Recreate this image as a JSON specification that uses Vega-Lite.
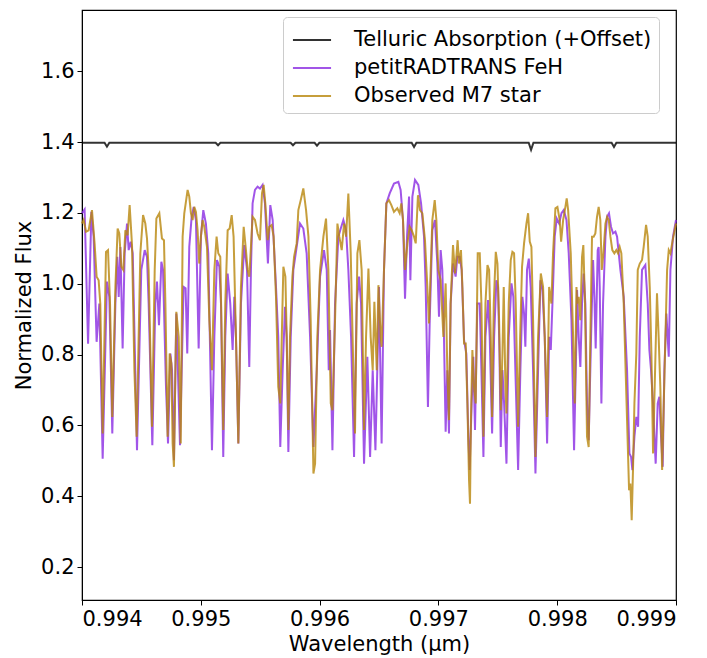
{
  "$schema": "https://vega.github.io/schema/vega-lite/v6.json",
  "width": 594,
  "height": 590,
  "autosize": {"type": "none"},
  "padding": {"left": 82, "top": 10, "right": 31, "bottom": 58},
  "background": "white",
  "config": {
    "view": {"stroke": "black", "strokeWidth": 1.2},
    "font": "DejaVu Sans",
    "axis": {"labelFont": "DejaVu Sans", "titleFont": "DejaVu Sans", "labelFontSize": 21, "titleFontSize": 21, "titleFontWeight": "normal", "labelColor": "black", "titleColor": "black", "tickColor": "black", "domainColor": "black", "tickSize": 5, "grid": false, "labelPadding": 3},
    "legend": {"labelFont": "DejaVu Sans", "labelFontSize": 21, "labelColor": "black"}
  },
  "datasets": {
    "tell": [
      {"w":0.994000,"f":1.398},{"w":0.994190,"f":1.398},{"w":0.994210,"f":1.387},{"w":0.994230,"f":1.398},
      {"w":0.995125,"f":1.398},{"w":0.995145,"f":1.391},{"w":0.995165,"f":1.398},
      {"w":0.995756,"f":1.398},{"w":0.995776,"f":1.391},{"w":0.995796,"f":1.398},
      {"w":0.995958,"f":1.398},{"w":0.995978,"f":1.390},{"w":0.995998,"f":1.398},
      {"w":0.996775,"f":1.398},{"w":0.996795,"f":1.386},{"w":0.996815,"f":1.398},
      {"w":0.997760,"f":1.398},{"w":0.997780,"f":1.378},{"w":0.997800,"f":1.398},
      {"w":0.998458,"f":1.398},{"w":0.998478,"f":1.386},{"w":0.998498,"f":1.398},
      {"w":0.999000,"f":1.398}
    ],
    "model": [
      {"w":0.994000,"f":1.199},{"w":0.994022,"f":1.210},{"w":0.994051,"f":0.831},{"w":0.994079,"f":1.203},{"w":0.994098,"f":1.133},{"w":0.994123,"f":0.836},{"w":0.994146,"f":0.944},{"w":0.994174,"f":0.506},{"w":0.994210,"f":1.006},{"w":0.994230,"f":0.963},{"w":0.994255,"f":0.577},{"w":0.994281,"f":0.944},{"w":0.994297,"f":1.076},{"w":0.994309,"f":0.963},{"w":0.994323,"f":1.104},{"w":0.994342,"f":0.817},{"w":0.994359,"f":1.086},{"w":0.994379,"f":1.170},{"w":0.994393,"f":1.095},{"w":0.994410,"f":1.119},{"w":0.994427,"f":1.086},{"w":0.994463,"f":0.530},{"w":0.994499,"f":1.039},{"w":0.994528,"f":1.095},{"w":0.994547,"f":1.076},{"w":0.994561,"f":0.944},{"w":0.994592,"f":0.544},{"w":0.994617,"f":0.944},{"w":0.994631,"f":1.006},{"w":0.994648,"f":0.883},{"w":0.994668,"f":1.062},{"w":0.994682,"f":1.039},{"w":0.994707,"f":0.709},{"w":0.994724,"f":0.549},{"w":0.994744,"f":0.803},{"w":0.994758,"f":0.756},{"w":0.994774,"f":0.502},{"w":0.994794,"f":0.916},{"w":0.994825,"f":0.544},
      {"w":0.994855,"f":0.991},{"w":0.994872,"f":0.987},{"w":0.994886,"f":0.803},{"w":0.994903,"f":1.104},{"w":0.994923,"f":1.189},{"w":0.994940,"f":1.217},{"w":0.994959,"f":1.180},{"w":0.994982,"f":0.817},{"w":0.995001,"f":1.133},{"w":0.995021,"f":1.208},{"w":0.995043,"f":1.170},{"w":0.995063,"f":1.086},{"w":0.995094,"f":0.530},{"w":0.995114,"f":0.850},{"w":0.995136,"f":1.067},{"w":0.995156,"f":1.048},{"w":0.995170,"f":0.944},{"w":0.995189,"f":0.511},{"w":0.995206,"f":0.850},{"w":0.995226,"f":1.029},{"w":0.995248,"f":0.944},{"w":0.995268,"f":0.813},{"w":0.995282,"f":0.963},{"w":0.995296,"f":0.850},{"w":0.995316,"f":0.549},{"w":0.995338,"f":0.944},{"w":0.995366,"f":1.109},{"w":0.995389,"f":1.039},{"w":0.995408,"f":0.765},{"w":0.995422,"f":1.039},{"w":0.995436,"f":1.227},{"w":0.995456,"f":1.265},{"w":0.995478,"f":1.274},{"w":0.995498,"f":1.269},{"w":0.995520,"f":1.279},{"w":0.995540,"f":1.227},{"w":0.995554,"f":1.133},{"w":0.995565,"f":1.057},{"w":0.995585,"f":1.222},{"w":0.995605,"f":1.180},{"w":0.995633,"f":0.991},{"w":0.995652,"f":0.850},{"w":0.995669,"f":0.539},
      {"w":0.995689,"f":0.756},{"w":0.995709,"f":0.935},{"w":0.995723,"f":0.850},{"w":0.995737,"f":0.525},{"w":0.995757,"f":0.850},{"w":0.995779,"f":1.039},{"w":0.995807,"f":1.104},{"w":0.995835,"f":1.170},{"w":0.995863,"f":1.156},{"w":0.995891,"f":1.086},{"w":0.995920,"f":0.850},{"w":0.995948,"f":0.539},{"w":0.995976,"f":0.756},{"w":0.996004,"f":1.020},{"w":0.996037,"f":1.095},{"w":0.996060,"f":1.039},{"w":0.996077,"f":0.756},{"w":0.996088,"f":0.869},{"w":0.996108,"f":0.530},{"w":0.996130,"f":0.944},{"w":0.996158,"f":1.133},{"w":0.996178,"f":1.156},{"w":0.996200,"f":1.180},{"w":0.996223,"f":1.151},{"w":0.996242,"f":1.039},{"w":0.996265,"f":0.850},{"w":0.996290,"f":0.511},{"w":0.996312,"f":0.944},{"w":0.996332,"f":1.020},{"w":0.996349,"f":0.944},{"w":0.996374,"f":0.492},{"w":0.996402,"f":0.794},{"w":0.996425,"f":0.511},{"w":0.996447,"f":0.756},{"w":0.996470,"f":0.530},{"w":0.996492,"f":0.850},
      {"w":0.996500,"f":0.991},{"w":0.996522,"f":0.549},{"w":0.996542,"f":1.039},{"w":0.996562,"f":1.227},{"w":0.996590,"f":1.255},{"w":0.996626,"f":1.283},{"w":0.996663,"f":1.288},{"w":0.996682,"f":1.265},{"w":0.996702,"f":1.180},{"w":0.996719,"f":0.958},{"w":0.996736,"f":1.133},{"w":0.996753,"f":1.246},{"w":0.996764,"f":1.010},{"w":0.996781,"f":1.246},{"w":0.996803,"f":1.293},{"w":0.996831,"f":1.279},{"w":0.996854,"f":1.227},{"w":0.996879,"f":1.133},{"w":0.996893,"f":0.991},{"w":0.996912,"f":0.652},{"w":0.996927,"f":0.897},{"w":0.996949,"f":1.151},{"w":0.996971,"f":1.180},{"w":0.996991,"f":1.057},{"w":0.997005,"f":0.907},{"w":0.997019,"f":1.095},{"w":0.997033,"f":1.039},{"w":0.997047,"f":0.850},{"w":0.997061,"f":0.582},{"w":0.997075,"f":0.756},{"w":0.997089,"f":0.577},{"w":0.997103,"f":0.944},{"w":0.997123,"f":1.057},{"w":0.997145,"f":1.020},{"w":0.997159,"f":1.076},{"w":0.997179,"f":1.076},{"w":0.997196,"f":1.039},{"w":0.997216,"f":0.841},{"w":0.997235,"f":0.803},{"w":0.997252,"f":0.568},{"w":0.997263,"f":0.474},{"w":0.997280,"f":0.662},{"w":0.997294,"f":0.794},{"w":0.997308,"f":0.587},{"w":0.997328,"f":0.944},
      {"w":0.997348,"f":0.944},{"w":0.997362,"f":0.756},{"w":0.997379,"f":0.511},{"w":0.997396,"f":0.850},{"w":0.997418,"f":0.954},{"w":0.997432,"f":0.850},{"w":0.997452,"f":0.577},{"w":0.997469,"f":0.850},{"w":0.997488,"f":1.010},{"w":0.997502,"f":0.991},{"w":0.997514,"f":0.803},{"w":0.997525,"f":0.539},{"w":0.997539,"f":0.756},{"w":0.997553,"f":0.662},{"w":0.997573,"f":0.492},{"w":0.997592,"f":0.850},{"w":0.997615,"f":1.001},{"w":0.997631,"f":0.963},{"w":0.997648,"f":0.756},{"w":0.997671,"f":0.474},{"w":0.997690,"f":0.756},{"w":0.997707,"f":0.963},{"w":0.997721,"f":0.916},{"w":0.997732,"f":0.822},{"w":0.997746,"f":1.039},{"w":0.997761,"f":1.071},{"w":0.997777,"f":0.991},{"w":0.997797,"f":0.756},{"w":0.997817,"f":0.464},{"w":0.997839,"f":0.756},{"w":0.997859,"f":1.010},{"w":0.997876,"f":0.982},{"w":0.997895,"f":0.850},{"w":0.997915,"f":0.549},{"w":0.997932,"f":0.850},{"w":0.997946,"f":0.813},{"w":0.997960,"f":0.944},{"w":0.997979,"f":1.133},{"w":0.997996,"f":1.184},{"w":0.998016,"f":1.170},{"w":0.998036,"f":1.199},{"w":0.998055,"f":1.208},{"w":0.998078,"f":1.180},{"w":0.998097,"f":1.086},{"w":0.998120,"f":0.897},{"w":0.998142,"f":0.530},{"w":0.998162,"f":0.850},
      {"w":0.998167,"f":0.982},{"w":0.998181,"f":0.850},{"w":0.998195,"f":0.765},{"w":0.998209,"f":0.944},{"w":0.998223,"f":1.029},{"w":0.998237,"f":0.944},{"w":0.998251,"f":0.662},{"w":0.998265,"f":0.558},{"w":0.998285,"f":0.850},{"w":0.998302,"f":1.067},{"w":0.998313,"f":0.963},{"w":0.998324,"f":0.817},{"w":0.998341,"f":1.095},{"w":0.998349,"f":1.104},{"w":0.998358,"f":0.991},{"w":0.998372,"f":0.662},{"w":0.998386,"f":0.944},{"w":0.998406,"f":1.133},{"w":0.998420,"f":1.189},{"w":0.998436,"f":1.199},{"w":0.998453,"f":1.161},{"w":0.998470,"f":1.142},{"w":0.998490,"f":1.147},{"w":0.998504,"f":1.133},{"w":0.998518,"f":1.086},{"w":0.998532,"f":1.039},{"w":0.998560,"f":0.963},{"w":0.998588,"f":0.756},{"w":0.998608,"f":0.521},{"w":0.998622,"f":0.511},{"w":0.998633,"f":0.474},{"w":0.998650,"f":0.568},{"w":0.998666,"f":0.624},{"w":0.998681,"f":0.596},{"w":0.998695,"f":0.850},{"w":0.998714,"f":1.039},{"w":0.998742,"f":1.053},{"w":0.998762,"f":0.944},{"w":0.998776,"f":0.813},{"w":0.998790,"f":0.756},{"w":0.998807,"f":0.662},{"w":0.998818,"f":0.568},{"w":0.998829,"f":0.492},{"w":0.998846,"f":0.662},{"w":0.998860,"f":0.681},{"w":0.998874,"f":0.568},{"w":0.998888,"f":0.483},{"w":0.998902,"f":0.756},{"w":0.998919,"f":0.916},{"w":0.998939,"f":0.794},{"w":0.998953,"f":1.039},{"w":0.998975,"f":1.133},{"w":0.999000,"f":1.180}
    ],
    "obs": [
      {"w":0.994000,"f":1.170},{"w":0.994014,"f":1.180},{"w":0.994034,"f":1.147},{"w":0.994056,"f":1.151},{"w":0.994084,"f":1.208},{"w":0.994107,"f":1.109},{"w":0.994123,"f":1.020},{"w":0.994140,"f":1.010},{"w":0.994154,"f":0.944},{"w":0.994174,"f":0.577},{"w":0.994202,"f":1.090},{"w":0.994219,"f":1.095},{"w":0.994236,"f":0.944},{"w":0.994255,"f":0.624},{"w":0.994281,"f":0.991},{"w":0.994300,"f":1.156},{"w":0.994314,"f":1.142},{"w":0.994331,"f":1.048},{"w":0.994348,"f":1.039},{"w":0.994365,"f":1.151},{"w":0.994384,"f":1.137},{"w":0.994401,"f":1.222},{"w":0.994421,"f":1.109},{"w":0.994441,"f":0.756},{"w":0.994460,"f":0.568},{"w":0.994491,"f":1.086},{"w":0.994514,"f":1.194},{"w":0.994533,"f":1.170},{"w":0.994547,"f":1.128},{"w":0.994561,"f":1.039},{"w":0.994589,"f":0.596},{"w":0.994612,"f":1.039},{"w":0.994626,"f":1.184},{"w":0.994651,"f":1.199},{"w":0.994673,"f":1.128},{"w":0.994690,"f":1.123},{"w":0.994702,"f":0.944},{"w":0.994721,"f":0.568},{"w":0.994738,"f":0.803},{"w":0.994752,"f":0.775},{"w":0.994763,"f":0.549},{"w":0.994774,"f":0.483},{"w":0.994794,"f":0.921},{"w":0.994814,"f":0.850},{"w":0.994831,"f":0.549},
      {"w":0.994847,"f":1.133},{"w":0.994861,"f":1.199},{"w":0.994875,"f":1.232},{"w":0.994889,"f":1.265},{"w":0.994903,"f":1.246},{"w":0.994917,"f":1.199},{"w":0.994931,"f":1.180},{"w":0.994945,"f":1.217},{"w":0.994959,"f":1.203},{"w":0.994973,"f":1.151},{"w":0.994987,"f":1.057},{"w":0.995001,"f":1.133},{"w":0.995015,"f":1.180},{"w":0.995029,"f":1.161},{"w":0.995052,"f":1.104},{"w":0.995072,"f":0.897},{"w":0.995094,"f":0.756},{"w":0.995114,"f":1.039},{"w":0.995133,"f":1.133},{"w":0.995147,"f":1.086},{"w":0.995164,"f":1.076},{"w":0.995189,"f":0.587},{"w":0.995206,"f":0.944},{"w":0.995226,"f":1.151},{"w":0.995243,"f":1.156},{"w":0.995260,"f":1.194},{"w":0.995276,"f":1.133},{"w":0.995296,"f":0.850},{"w":0.995316,"f":0.549},{"w":0.995338,"f":0.991},{"w":0.995361,"f":1.161},{"w":0.995380,"f":1.095},{"w":0.995394,"f":1.039},{"w":0.995408,"f":1.020},{"w":0.995422,"f":1.104},{"w":0.995436,"f":1.189},{"w":0.995456,"f":1.180},{"w":0.995478,"f":1.142},{"w":0.995498,"f":1.123},{"w":0.995515,"f":1.255},{"w":0.995529,"f":1.279},{"w":0.995543,"f":1.227},{"w":0.995563,"f":1.123},{"w":0.995577,"f":1.161},{"w":0.995596,"f":1.166},{"w":0.995613,"f":1.133},{"w":0.995633,"f":0.963},{"w":0.995652,"f":0.709},{"w":0.995669,"f":0.662},
      {"w":0.995695,"f":1.048},{"w":0.995712,"f":1.020},{"w":0.995723,"f":0.850},{"w":0.995737,"f":0.587},{"w":0.995751,"f":0.850},{"w":0.995771,"f":1.020},{"w":0.995785,"f":1.076},{"w":0.995807,"f":1.114},{"w":0.995821,"f":1.208},{"w":0.995841,"f":1.236},{"w":0.995863,"f":1.269},{"w":0.995886,"f":1.208},{"w":0.995906,"f":1.133},{"w":0.995925,"f":0.897},{"w":0.995948,"f":0.464},{"w":0.995962,"f":0.492},{"w":0.995981,"f":0.850},{"w":0.996004,"f":1.039},{"w":0.996032,"f":1.133},{"w":0.996054,"f":1.184},{"w":0.996074,"f":1.039},{"w":0.996094,"f":0.662},{"w":0.996108,"f":0.643},{"w":0.996130,"f":0.897},{"w":0.996150,"f":1.170},{"w":0.996166,"f":1.133},{"w":0.996186,"f":1.095},{"w":0.996206,"f":1.170},{"w":0.996223,"f":1.133},{"w":0.996242,"f":1.255},{"w":0.996262,"f":1.086},{"w":0.996284,"f":0.756},{"w":0.996298,"f":0.577},{"w":0.996318,"f":1.086},{"w":0.996335,"f":1.123},{"w":0.996354,"f":1.039},{"w":0.996374,"f":0.587},{"w":0.996391,"f":0.850},{"w":0.996411,"f":1.043},{"w":0.996430,"f":0.850},{"w":0.996447,"f":0.756},{"w":0.996461,"f":0.949},{"w":0.996481,"f":0.756},{"w":0.996495,"f":0.996},
      {"w":0.996514,"f":0.850},{"w":0.996522,"f":0.822},{"w":0.996542,"f":1.039},{"w":0.996562,"f":1.227},{"w":0.996584,"f":1.236},{"w":0.996604,"f":1.222},{"w":0.996626,"f":1.203},{"w":0.996654,"f":1.213},{"w":0.996674,"f":1.199},{"w":0.996688,"f":1.227},{"w":0.996702,"f":1.180},{"w":0.996719,"f":1.039},{"w":0.996739,"f":1.114},{"w":0.996758,"f":1.161},{"w":0.996775,"f":1.151},{"w":0.996795,"f":1.133},{"w":0.996809,"f":1.114},{"w":0.996828,"f":1.250},{"w":0.996845,"f":1.208},{"w":0.996865,"f":1.199},{"w":0.996887,"f":1.123},{"w":0.996907,"f":0.991},{"w":0.996921,"f":0.888},{"w":0.996935,"f":1.039},{"w":0.996949,"f":1.180},{"w":0.996969,"f":1.236},{"w":0.996983,"f":1.180},{"w":0.996999,"f":1.039},{"w":0.997019,"f":1.010},{"w":0.997042,"f":0.850},{"w":0.997061,"f":1.001},{"w":0.997075,"f":0.756},{"w":0.997089,"f":0.615},{"w":0.997103,"f":0.944},{"w":0.997123,"f":1.109},{"w":0.997140,"f":1.029},{"w":0.997162,"f":1.123},{"w":0.997173,"f":1.057},{"w":0.997190,"f":1.095},{"w":0.997202,"f":0.991},{"w":0.997216,"f":0.831},{"w":0.997230,"f":0.831},{"w":0.997244,"f":0.662},{"w":0.997258,"f":0.445},{"w":0.997266,"f":0.379},{"w":0.997274,"f":0.615},{"w":0.997286,"f":0.813},{"w":0.997300,"f":0.709},{"w":0.997314,"f":0.662},{"w":0.997331,"f":1.086},
      {"w":0.997348,"f":1.086},{"w":0.997362,"f":0.944},{"w":0.997379,"f":0.568},{"w":0.997396,"f":0.944},{"w":0.997413,"f":1.053},{"w":0.997427,"f":1.039},{"w":0.997441,"f":0.850},{"w":0.997452,"f":0.624},{"w":0.997466,"f":0.944},{"w":0.997483,"f":1.090},{"w":0.997497,"f":1.057},{"w":0.997511,"f":0.897},{"w":0.997525,"f":0.643},{"w":0.997539,"f":0.803},{"w":0.997550,"f":0.991},{"w":0.997564,"f":0.709},{"w":0.997573,"f":0.634},{"w":0.997592,"f":0.944},{"w":0.997609,"f":1.067},{"w":0.997623,"f":1.090},{"w":0.997637,"f":1.086},{"w":0.997651,"f":0.944},{"w":0.997671,"f":0.596},{"w":0.997688,"f":0.850},{"w":0.997704,"f":1.048},{"w":0.997721,"f":1.114},{"w":0.997741,"f":1.170},{"w":0.997755,"f":1.199},{"w":0.997769,"f":1.119},{"w":0.997783,"f":1.104},{"w":0.997797,"f":0.897},{"w":0.997817,"f":0.511},{"w":0.997839,"f":0.850},{"w":0.997862,"f":1.029},{"w":0.997881,"f":0.991},{"w":0.997895,"f":0.850},{"w":0.997915,"f":0.624},{"w":0.997932,"f":0.991},{"w":0.997951,"f":0.944},{"w":0.997965,"f":1.086},{"w":0.997985,"f":1.213},{"w":0.998002,"f":1.217},{"w":0.998021,"f":1.180},{"w":0.998033,"f":1.119},{"w":0.998050,"f":1.180},{"w":0.998069,"f":1.217},{"w":0.998080,"f":1.241},{"w":0.998092,"f":1.208},{"w":0.998114,"f":1.086},{"w":0.998134,"f":0.850},{"w":0.998148,"f":0.662},{"w":0.998162,"f":0.991},
      {"w":0.998167,"f":0.944},{"w":0.998181,"f":0.963},{"w":0.998195,"f":0.897},{"w":0.998209,"f":1.076},{"w":0.998220,"f":1.109},{"w":0.998234,"f":0.944},{"w":0.998251,"f":0.568},{"w":0.998265,"f":0.539},{"w":0.998279,"f":0.850},{"w":0.998293,"f":1.133},{"w":0.998307,"f":1.133},{"w":0.998321,"f":1.142},{"w":0.998335,"f":1.189},{"w":0.998349,"f":1.217},{"w":0.998363,"f":1.180},{"w":0.998375,"f":1.039},{"w":0.998389,"f":1.086},{"w":0.998406,"f":1.170},{"w":0.998420,"f":1.189},{"w":0.998434,"f":1.180},{"w":0.998448,"f":1.133},{"w":0.998464,"f":1.095},{"w":0.998481,"f":1.086},{"w":0.998498,"f":1.095},{"w":0.998512,"f":1.086},{"w":0.998526,"f":1.104},{"w":0.998540,"f":1.086},{"w":0.998560,"f":0.944},{"w":0.998588,"f":0.615},{"w":0.998605,"f":0.417},{"w":0.998616,"f":0.436},{"w":0.998627,"f":0.332},{"w":0.998638,"f":0.474},{"w":0.998650,"f":0.662},{"w":0.998666,"f":0.803},{"w":0.998678,"f":1.039},{"w":0.998695,"f":1.057},{"w":0.998714,"f":1.067},{"w":0.998728,"f":1.104},{"w":0.998748,"f":1.166},{"w":0.998762,"f":1.133},{"w":0.998779,"f":0.991},{"w":0.998793,"f":0.803},{"w":0.998807,"f":0.521},{"w":0.998824,"f":0.756},{"w":0.998840,"f":0.973},{"w":0.998854,"f":0.850},{"w":0.998868,"f":0.709},{"w":0.998883,"f":0.474},{"w":0.998897,"f":0.662},{"w":0.998911,"f":0.850},{"w":0.998925,"f":1.039},{"w":0.998939,"f":1.095},{"w":0.998953,"f":1.086},{"w":0.998972,"f":1.123},{"w":0.999000,"f":1.170}
    ]
  },
  "encoding": {
    "x": {"field": "w", "type": "quantitative", "title": "Wavelength (μm)",
      "scale": {"domain": [0.994, 0.999], "nice": false, "zero": false},
      "axis": {"values": [0.994, 0.995, 0.996, 0.997, 0.998, 0.999], "format": ".3f", "titlePadding": 4}},
    "y": {"field": "f", "type": "quantitative", "title": "Normalized Flux",
      "scale": {"domain": [0.107, 1.773], "nice": false, "zero": false},
      "axis": {"values": [0.2, 0.4, 0.6, 0.8, 1.0, 1.2, 1.4, 1.6], "format": ".1f", "titlePadding": 6}}
  },
  "layer": [
    {"data": {"name": "tell"}, "mark": {"type": "line", "strokeWidth": 2, "opacity": 0.8},
     "encoding": {"color": {"datum": "Telluric Absorption (+Offset)", "type": "nominal",
       "scale": {"domain": ["Telluric Absorption (+Offset)", "petitRADTRANS FeH", "Observed M7 star"], "range": ["#000000", "#8A2BE2", "#B8860B"]},
       "legend": {"title": null, "orient": "none", "legendX": 201, "legendY": 7, "symbolType": "M-0.87,0H1.67", "symbolSize": 900, "symbolStrokeWidth": 2, "symbolOpacity": 0.8, "labelOffset": 32, "rowPadding": 2, "padding": 7, "fillColor": "white", "strokeColor": "#cccccc", "cornerRadius": 4, "labelLimit": 400}}}},
    {"data": {"name": "model"}, "mark": {"type": "line", "strokeWidth": 2, "opacity": 0.8},
     "encoding": {"color": {"datum": "petitRADTRANS FeH", "type": "nominal"}}},
    {"data": {"name": "obs"}, "mark": {"type": "line", "strokeWidth": 2, "opacity": 0.8},
     "encoding": {"color": {"datum": "Observed M7 star", "type": "nominal"}}}
  ]
}
